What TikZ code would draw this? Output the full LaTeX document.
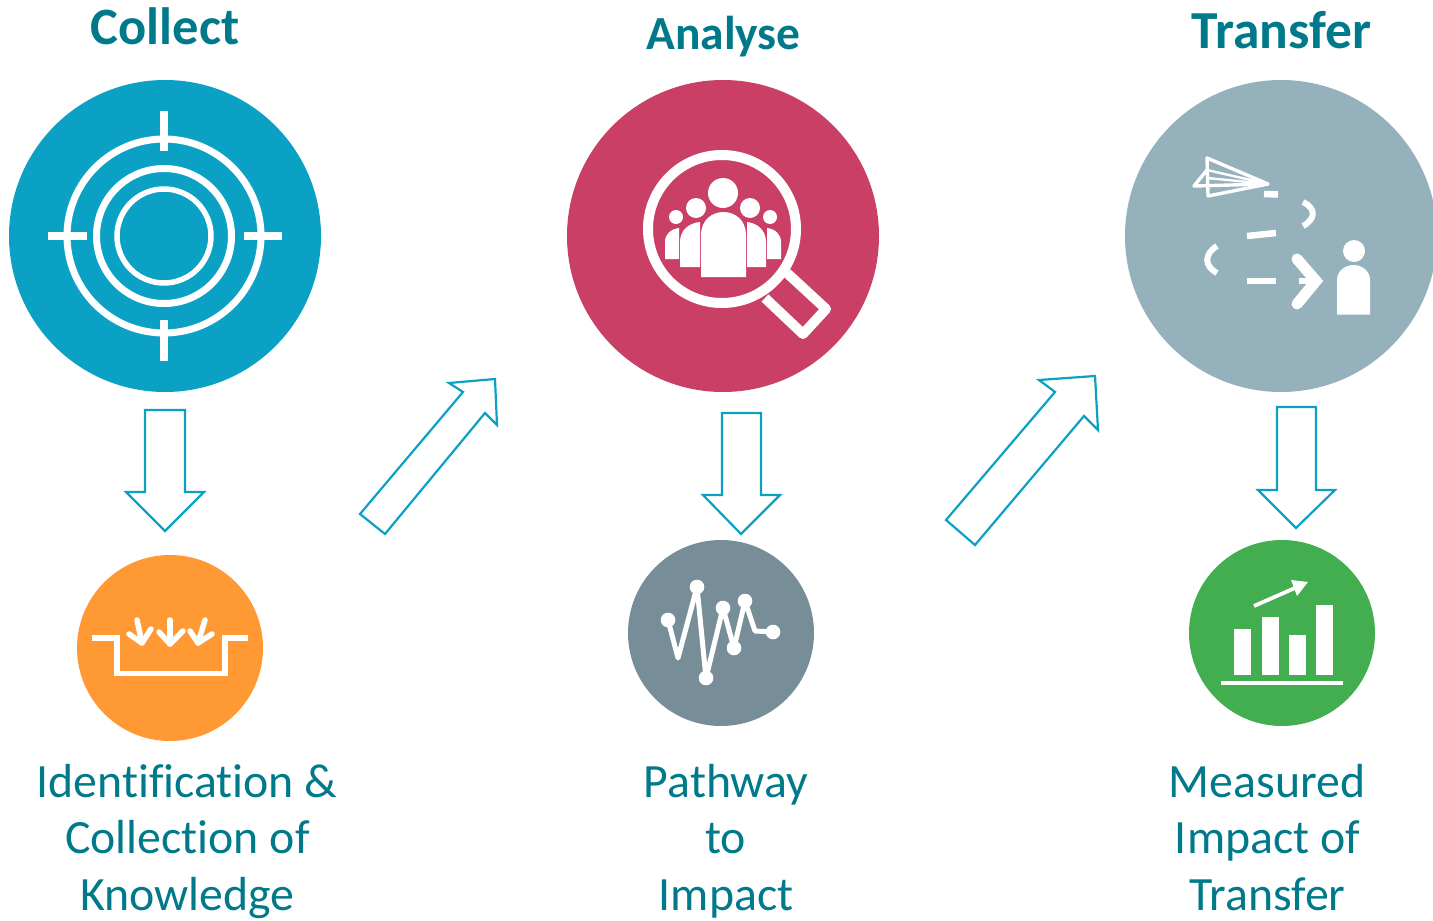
\documentclass[tikz,border=0pt]{standalone}
\usepackage{fontspec}
\setmainfont[RawFeature={-liga}]{Carlito}
\definecolor{cblue}{HTML}{0BA1C4}
\definecolor{cpink}{HTML}{C93F66}
\definecolor{cgrey}{HTML}{95B1BC}
\definecolor{corange}{HTML}{FF9933}
\definecolor{cslate}{HTML}{778E99}
\definecolor{cgreen}{HTML}{42AE50}
\definecolor{cteal}{HTML}{007A8A}
\tikzset{
  bigdisc/.style={circle,inner sep=0pt,minimum size=312pt,draw=none},
  smalldisc/.style={circle,inner sep=0pt,minimum size=186pt,draw=none},
  blockarrow/.style={draw=cblue,line width=2.2pt,fill=white,line join=miter},
  icon/.style={draw=white,line width=5pt},
  iconfill/.style={fill=white,draw=none},
  dot/.style={fill=white,draw=none},
  title/.style={text=cteal,font=\bfseries\fontsize{#1}{#1}\selectfont,anchor=base,inner sep=0pt},
  caption/.style={text=cteal,font=\fontsize{47.8}{47.8}\selectfont,anchor=base,inner sep=0pt}
}
\begin{document}
\begin{tikzpicture}[x=1pt,y=-1pt]
\useasboundingbox (0,0) rectangle (1433,921);
\clip (0,0) rectangle (1433,921);
% discs
\node[bigdisc,fill=cblue] (collect) at (165,236) {};
\node[bigdisc,fill=cpink] (analyse) at (723,236) {};
\node[bigdisc,fill=cgrey] (transfer) at (1281,236) {};
\node[smalldisc,fill=corange] (know) at (170,648) {};
\node[smalldisc,fill=cslate] (path) at (721,633) {};
\node[smalldisc,fill=cgreen] (impact) at (1282,633) {};
% titles
\node[title=52.5] (t1) at (165,44) {Collect};
\node[title=47.5] (t2) at (723.5,49) {Analyse};
\node[title=53.5] (t3) at (1281.5,48) {Transfer};
% captions
\node[caption] (c11) at (187,797) {Identification \&};
\node[caption] (c12) at (187.5,853) {Collection of};
\node[caption] (c13) at (187.5,910) {Knowledge};
\node[caption] (c21) at (726,797) {Pathway};
\node[caption] (c22) at (725.5,853) {to};
\node[caption] (c23) at (726,910) {Impact};
\node[caption] (c31) at (1267,797) {Measured};
\node[caption] (c32) at (1267.5,853) {Impact of};
\node[caption] (c33) at (1267.5,910) {Transfer};
% block arrows
\draw[blockarrow] (145,410)--(185,410)--(185,492)--(204,492)--(165,531)--(126,492)--(145,492)--cycle;
\draw[blockarrow] (722,413)--(761,413)--(761,495)--(780,495)--(741,534)--(703,495)--(722,495)--cycle;
\draw[blockarrow] (1277,407)--(1316,407)--(1316,490)--(1335,490)--(1296,528)--(1258,490)--(1277,490)--cycle;
\draw[blockarrow] (360,514)--(463,392)--(449,383)--(495,379)--(497,425)--(485,413)--(385,534)--cycle;
\draw[blockarrow] (946,520)--(1055,392)--(1039,380)--(1095,376)--(1098,430)--(1084,416)--(975,545)--cycle;
% target icon
\draw[icon,line width=7pt] (164,236) circle[radius=97];
\draw[icon,line width=7pt] (164,236) circle[radius=67.5];
\draw[icon,line width=5.5pt] (164,236) circle[radius=47];
\draw[icon,line width=8pt] (164,111)--(164,151);
\draw[icon,line width=8pt] (164,320)--(164,361);
\draw[icon,line width=8pt] (48,236)--(87,236);
\draw[icon,line width=8pt] (244,236)--(282,236);
% magnifier icon
\draw[icon,line width=10pt] (722,229) circle[radius=74];
\draw[icon,line width=10pt,line join=round] (787,273)--(826,309)--(803,334)--(765,298);
\fill[dot] (723,193) circle[radius=15];
\fill[dot] (696,208) circle[radius=10];
\fill[dot] (750,208) circle[radius=10];
\fill[dot] (676,217) circle[radius=7];
\fill[dot] (770,217) circle[radius=7];
\fill[iconfill] (701,277)--(701,235) .. controls (701,220) and (712,212) .. (723.5,212) .. controls (735,212) and (746,220) .. (746,235)--(746,277)--cycle;
\fill[iconfill] (680,267)--(680,242) .. controls (680,230) and (689,223) .. (700,222)--(700,267)--cycle;
\fill[iconfill] (766,267)--(766,242) .. controls (766,230) and (757,223) .. (747,222)--(747,267)--cycle;
\fill[iconfill] (665,259)--(665,242) .. controls (665,234) and (671,229) .. (679,228)--(679,259)--cycle;
\fill[iconfill] (781,259)--(781,242) .. controls (781,234) and (775,229) .. (767,228)--(767,259)--cycle;
% plane icon
\draw[icon,line width=3.4pt,line join=round] (1207,158)--(1268,184)--(1208,196)--cycle;
\draw[icon,line width=3.4pt,line join=round] (1207,170)--(1194,186)--(1268,184);
\draw[icon,line width=2.4pt] (1207,170)--(1268,184);
\draw[icon,line width=2.4pt] (1207,178)--(1268,184);
\draw[icon,line width=6.5pt] (1264,194)--(1278,194.5);
\draw[icon,line width=6pt] (1303,202) .. controls (1316,208) and (1316,219) .. (1303,226);
\draw[icon,line width=6.5pt] (1247,236)--(1276,233);
\draw[icon,line width=6pt] (1217,246) .. controls (1204,254) and (1204,266) .. (1217,273);
\draw[icon,line width=6.5pt] (1247,281)--(1276,281);
\draw[icon,line width=11pt,line cap=round,line join=miter] (1297,259)--(1316,281)--(1297,304);
\draw[icon,line width=6.5pt] (1299,281)--(1316,281);
\fill[dot] (1354,251) circle[radius=11];
\fill[iconfill] (1337,314.5)--(1337,280) .. controls (1337,271) and (1345,265) .. (1353.5,265) .. controls (1362,265) and (1370,271) .. (1370,280)--(1370,314.5)--cycle;
% tray icon
\draw[icon,line width=5.5pt] (92,638)--(117,638)--(117,673.5)--(225,673.5)--(225,638)--(248,638);
\draw[icon,line width=5.5pt,line cap=round,line join=round] (137,620)--(142,643);
\draw[icon,line width=5.5pt,line cap=round,line join=round] (129,634)--(142,643)--(151,629);
\draw[icon,line width=5.5pt,line cap=round,line join=round] (170,620)--(170,644);
\draw[icon,line width=5.5pt,line cap=round,line join=round] (159,632)--(170,644)--(183,631);
\draw[icon,line width=5.5pt,line cap=round,line join=round] (205,620)--(198,643);
\draw[icon,line width=5.5pt,line cap=round,line join=round] (190,631)--(198,643)--(212,634);
% pulse icon
\draw[icon,line width=5pt,line join=round,line cap=round] (668,620)--(678,658)--(697,587)--(706,678)--(723,608)--(734,648)--(745,601)--(755,631)--(773,632);
\foreach \px/\py in {668/620,697/587,706/678,723/608,734/648,745/601,773/632}
  \fill[dot] (\px,\py) circle[radius=7.3];
% chart icon
\fill[iconfill] (1234,629) rectangle (1251,675);
\fill[iconfill] (1262,617) rectangle (1279,675);
\fill[iconfill] (1289,635) rectangle (1306,675);
\fill[iconfill] (1316,605) rectangle (1333,675);
\fill[iconfill] (1221,681) rectangle (1343,685);
\draw[icon,line width=3.8pt] (1254,606)--(1295,588);
\fill[iconfill] (1308,582)--(1291,580)--(1297,596)--cycle;
\end{tikzpicture}
\end{document}
